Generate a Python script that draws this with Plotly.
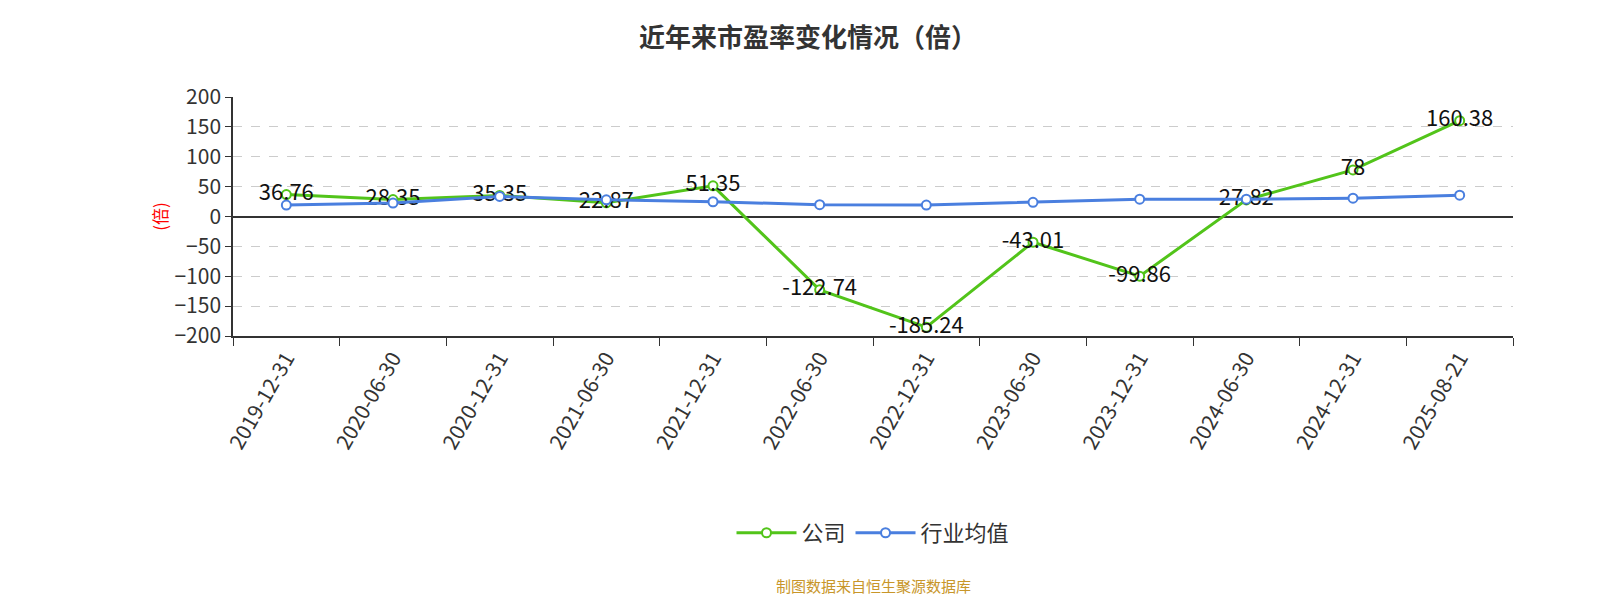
import plotly.graph_objects as go

dates = ["2019-12-31","2020-06-30","2020-12-31","2021-06-30","2021-12-31","2022-06-30",
         "2022-12-31","2023-06-30","2023-12-31","2024-06-30","2024-12-31","2025-08-21"]
company = [36.76, 28.35, 35.35, 22.87, 51.35, -122.74, -185.24, -43.01, -99.86, 27.82, 78, 160.38]
industry = [19.2, 22.5, 33.5, 28.0, 24.7, 19.8, 19.2, 23.7, 29.0, 29.0, 30.7, 35.6]

font = "Noto Sans CJK SC"
fig = go.Figure()
fig.add_trace(go.Scatter(x=dates, y=company, name="公司", mode="lines+markers+text",
    line=dict(color="#52c41a", width=3),
    marker=dict(symbol="circle", size=9, color="white", line=dict(color="#52c41a", width=2)),
    text=[str(v) for v in company], textposition="middle center", cliponaxis=False,
    textfont=dict(size=22, color="#111", family=font)))
fig.add_trace(go.Scatter(x=dates, y=industry, name="行业均值", mode="lines+markers",
    line=dict(color="#4a7fdf", width=3),
    marker=dict(symbol="circle", size=9, color="white", line=dict(color="#4a7fdf", width=2))))

fig.update_layout(
    width=1600, height=600, plot_bgcolor="white", paper_bgcolor="white",
    margin=dict(l=225, r=95, t=89, b=272, autoexpand=False),
    font=dict(family=font, color="#333"),
    title=dict(text="<b>近年来市盈率变化情况（倍）</b>", x=0.5, y=0.965, xanchor="center",
               font=dict(size=26, color="#333")),
    showlegend=True,
    legend=dict(orientation="h", x=0.5, xanchor="center", y=-0.824, yanchor="middle",
                font=dict(size=22, color="#333"), itemwidth=60),
    xaxis=dict(type="category", range=[-0.5, 11.5], tickson="boundaries", ticks="outside",
               ticklen=8, tickcolor="#333", showline=True, linecolor="#333", linewidth=1.5,
               tickangle=-60, tickfont=dict(size=21, color="#333"), showgrid=False, zeroline=False,
               automargin=False),
    yaxis=dict(range=[-200, 200], dtick=50, showline=True, linecolor="#333", linewidth=1.5,
               ticks="outside", ticklen=6, tickcolor="#333", tickfont=dict(size=21, color="#333"),
               gridcolor="#cccccc", griddash="dash", zeroline=True, zerolinecolor="#333",
               zerolinewidth=1.5, automargin=False,
               title=dict(text="(倍)", font=dict(size=17, color="red"), standoff=2)),
    annotations=[dict(text="制图数据来自恒生聚源数据库", xref="paper", yref="paper",
                      x=0.5, y=-1.045, yanchor="middle", showarrow=False,
                      font=dict(size=15, color="#c8962a"))],
)
fig.write_html("out.html")
